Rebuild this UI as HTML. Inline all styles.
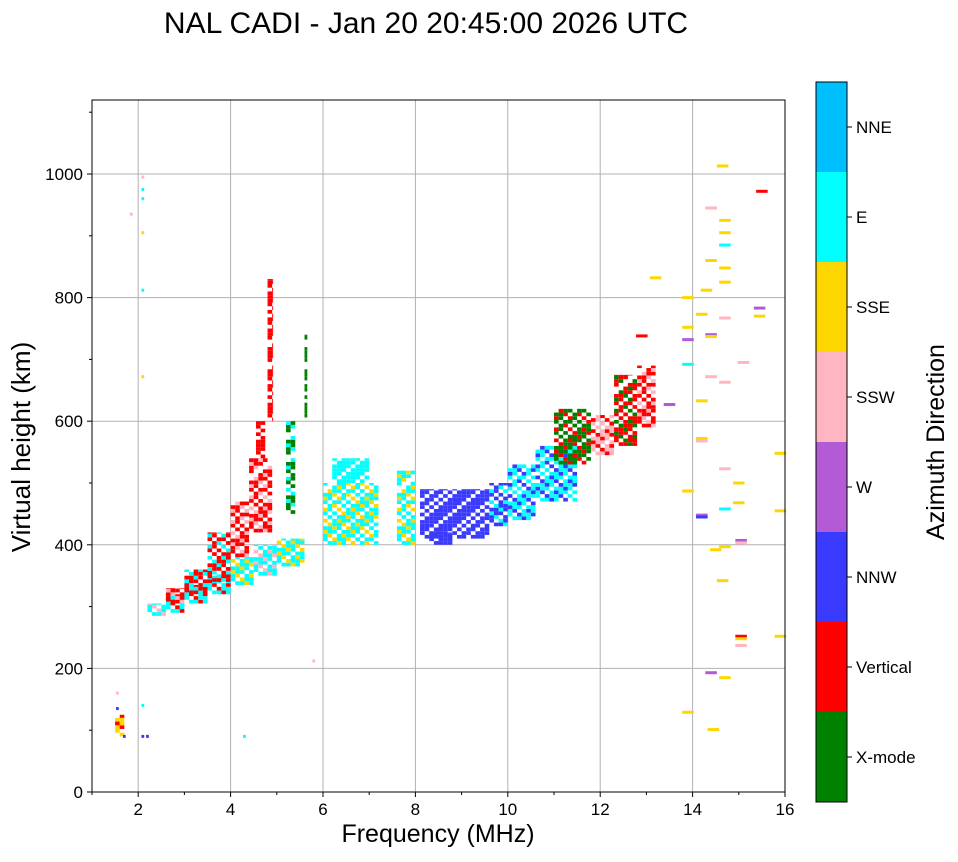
<!DOCTYPE html>
<html><head><meta charset="utf-8"><style>
body{margin:0;background:#fff;font-family:"Liberation Sans","DejaVu Sans",sans-serif}
svg text{font-family:"Liberation Sans","DejaVu Sans",sans-serif}
</style></head><body>
<svg id="chart" width="958" height="857" xmlns="http://www.w3.org/2000/svg">
<text x="426" y="33" font-size="30" text-anchor="middle">NAL CADI - Jan 20 20:45:00 2026 UTC</text>
<g id="grid"></g>
<g id="marks"></g>
<rect x="92" y="100" width="693" height="692" fill="none" stroke="#000" stroke-width="1"/>
<g id="axes"></g>
<text x="438" y="842" font-size="25" text-anchor="middle">Frequency (MHz)</text>
<text transform="translate(30,447) rotate(-90)" font-size="26" text-anchor="middle">Virtual height (km)</text>
<g id="cbar"></g>
<text transform="translate(944,442) rotate(-90)" font-size="25" text-anchor="middle">Azimuth Direction</text>
</svg>
<script>
const dirNames=["X-mode","Vertical","NNW","W","SSW","SSE","E","NNE"];
const dirColors=["#008000","#ff0000","#3a3aff","#b35ad6","#ffb6c1","#ffd700","#00ffff","#00bfff"];
const xTicks=[2,4,6,8,10,12,14,16];
const yTicks=[0,200,400,600,800,1000];
// blocks: [f0,f1,h0,h1,primaryDir,secondaryDir]
const blocks=[
[1.5,1.7,90,125,5,1],
[2.2,2.6,285,305,6,4],[2.6,3.0,290,320,6,1],[3.0,3.5,305,335,6,1],[3.5,4.0,320,350,6,1],
[4.0,4.5,335,380,6,5],[4.5,5.0,350,400,6,4],[5.0,5.6,365,410,6,5],
[2.6,3.0,305,330,1,4],[3.0,3.5,320,360,1,6],[3.5,4.0,340,420,1,6],[4.0,4.4,380,470,1,4],
[4.4,4.9,420,540,1,4],[4.55,4.75,540,600,1,1],[4.8,4.92,600,830,1,1],
[5.2,5.4,450,600,0,6],[5.6,5.66,600,740,0,0],
[6.0,7.2,400,500,6,5],[6.2,7.0,500,540,6,6],[7.6,8.0,400,520,6,5],
[8.1,9.6,410,490,2,2],[8.3,8.8,400,420,2,2],[9.6,10.0,430,500,2,6],
[10.0,10.6,440,530,6,2],[10.6,11.5,470,560,6,2],[11.0,11.8,530,620,0,1],
[11.8,12.3,545,610,4,1],[12.3,12.8,560,675,1,0],[12.8,13.2,590,690,1,4]
];
// sparse echoes: [freq,height,dir]
const echoes=[
[14.65,1013,5],[15.5,972,1],[14.4,945,4],[14.7,925,5],[14.7,905,5],[14.7,885,6],[14.4,860,5],[14.7,848,5],
[14.3,812,5],[14.7,825,5],[13.9,800,5],[14.2,773,5],[14.7,767,4],[15.45,783,3],[15.45,770,5],[13.2,832,5],
[14.4,740,3],[14.4,737,5],[13.9,752,5],[13.9,732,3],[12.9,738,1],[15.1,695,4],[13.9,692,6],[14.4,672,4],
[14.7,663,4],[14.2,633,5],[13.5,627,3],[14.2,572,5],[14.2,568,4],[15.9,548,5],[14.7,523,4],[13.9,487,5],
[15.0,500,5],[15.0,468,5],[14.7,458,6],[15.9,455,5],[14.2,448,3],[14.2,445,2],[15.05,407,3],[15.05,403,4],
[14.7,397,5],[14.5,392,5],[14.65,342,5],[15.05,252,1],[15.05,248,5],[15.05,237,4],[15.9,252,5],[14.4,193,3],
[14.7,185,5],[13.9,129,5],[14.45,101,5],
[1.7,90,2],[2.1,90,2],[2.2,90,2],[2.1,140,6],[2.1,975,6],[2.1,995,4],[2.1,960,6],[2.1,905,5],[2.1,812,6],
[2.1,672,5],[1.85,935,4],[4.3,90,6],[5.8,212,4],[1.55,160,4],[1.55,135,2]
];
const NS="http://www.w3.org/2000/svg";
const X=f=>92+(f-1)*(785-92)/15;
const Y=h=>792-h*(792-174)/1000;
function mk(tag,attrs,parent){const e=document.createElementNS(NS,tag);for(const k in attrs)e.setAttribute(k,attrs[k]);parent.appendChild(e);return e;}
const grid=document.getElementById('grid'),axes=document.getElementById('axes'),marks=document.getElementById('marks'),cbar=document.getElementById('cbar');
xTicks.forEach(t=>{
 const l=mk('line',{x1:X(t),x2:X(t),y1:100,y2:792,stroke:'#b0b0b0','stroke-width':1},grid);
 
 
 mk('line',{x1:X(t),x2:X(t),y1:792,y2:797,stroke:'#000'},axes);
 const tx=mk('text',{x:X(t),y:815,'font-size':17,'text-anchor':'middle'},axes);tx.textContent=t;
 
 
});
for(let f=1;f<=16;f++){if(f%2)mk('line',{x1:X(f),x2:X(f),y1:792,y2:795,stroke:'#000'},axes);}
for(let h=100;h<=1100;h+=200)mk('line',{x1:89,x2:92,y1:Y(h),y2:Y(h),stroke:'#000'},axes);
yTicks.forEach(t=>{
 const l=mk('line',{x1:92,x2:785,y1:Y(t),y2:Y(t),stroke:'#b0b0b0','stroke-width':1},grid);
 
 
 mk('line',{x1:87,x2:92,y1:Y(t),y2:Y(t),stroke:'#000'},axes);
 const tx=mk('text',{x:83,y:Y(t)+6,'font-size':17,'text-anchor':'end'},axes);tx.textContent=t;
 
 
});
blocks.forEach(b=>{
 const [f0,f1,h0,h1,p,s]=b;let i=0;
 for(let f=f0;f<f1-1e-6;f+=0.1,i++){let j=0;
  for(let h=h0;h<h1-1e-6;h+=6,j++){
   if((i*7+j*3)%5===0||(i*2+j*5)%7===0)continue;
   const d=((i+j)%3===0)?s:p;
   const r=mk('rect',{x:X(f),y:Y(Math.min(h+6,h1)),width:X(Math.min(f+0.1,f1))-X(f),height:Y(h)-Y(Math.min(h+6,h1)),fill:dirColors[d]},marks);
   
   
 }}
});
echoes.forEach(e=>{
 const [f,h,d]=e;const w=f>12?0.25:0.06;
 const r=mk('rect',{x:X(f-w/2),y:Y(h)-1.5,width:X(f+w/2)-X(f-w/2),height:3,fill:dirColors[d]},marks);
 
 
});
const seg=(802-82)/8;
dirNames.forEach((n,i)=>{
 const y=802-(i+1)*seg;
 const r=mk('rect',{x:816,y:y,width:31,height:seg,fill:dirColors[i]},cbar);
 
 
 mk('line',{x1:847,x2:852,y1:y+seg/2,y2:y+seg/2,stroke:'#000'},cbar);
 const t=mk('text',{x:856,y:y+seg/2+6,'font-size':17},cbar);t.textContent=n;
 
 
});
mk('rect',{x:816,y:82,width:31,height:720,fill:'none',stroke:'#000'},cbar);
</script>
</body></html>
